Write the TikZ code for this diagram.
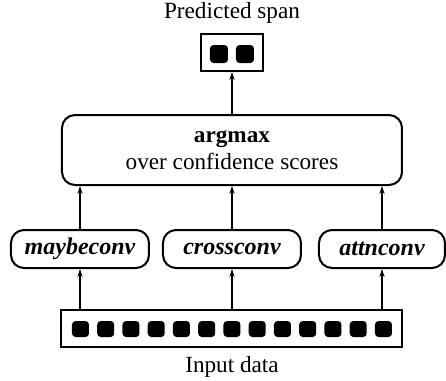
\documentclass[tikz,border=0pt]{standalone}
\usepackage{fontspec}
\setmainfont{Liberation Serif}
\usetikzlibrary{arrows.meta, positioning, calc}
\tikzset{%
  box/.style={draw, line width=1pt, inner sep=0pt},
  roundbox/.style={box, rounded corners=6.5pt},
  token/.style={fill=black, rounded corners=1.8pt, inner sep=0pt,
                minimum width=8.5pt, minimum height=8pt},
  flow/.style={-{Stealth[length=4pt, width=2.6pt]}, line width=0.6pt},
  convname/.style={font=\bfseries\itshape\fontsize{12}{14}\selectfont},
}

\begin{document}
\begin{tikzpicture}[x=0.5pt, y=-0.5pt, font=\fontsize{11.6}{13.5}\selectfont]
\useasboundingbox (0,0) rectangle (446,381);

% output box with two tokens
\node (title) at (232,13) {Predicted span};
\node[box, minimum width=31pt, minimum height=18.5pt] (out) at (232,52.5) {};
\node[token, minimum width=9pt, minimum height=9pt] (o1) at (219,54) {};
\node[token, minimum width=9pt, minimum height=9pt] (o2) at (245,54) {};

% selection box
\node[roundbox, minimum width=170pt, minimum height=35pt, align=center] (argmax) at (232,150)
  {\textbf{argmax}\\over confidence scores};

% three conv models
\node[roundbox, convname, minimum width=69pt, minimum height=19pt] (maybe) at (80,249) {maybeconv};
\node[roundbox, convname, minimum width=69pt, minimum height=19pt] (cross) at (232,249) {crossconv};
\node[roundbox, convname, minimum width=63pt, minimum height=19pt] (attn) at (382,249) {attnconv};

% input box with tokens
\node[box, minimum width=170.5pt, minimum height=18.5pt] (in) at (232,328.5) {};
\foreach \i in {0,...,12}
  \node[token] (t\i) at ({80.5+25.25*\i},329) {};
\node (label) at (232,367) {Input data};

% arrows
\draw[flow] (argmax.north) -- (out.south);
\foreach \m in {maybe,cross,attn}{
  \draw[flow] (\m.north) -- (\m.north |- argmax.south);
  \draw[flow] (in.north -| \m) -- (\m.south);
}

\end{tikzpicture}
\end{document}
